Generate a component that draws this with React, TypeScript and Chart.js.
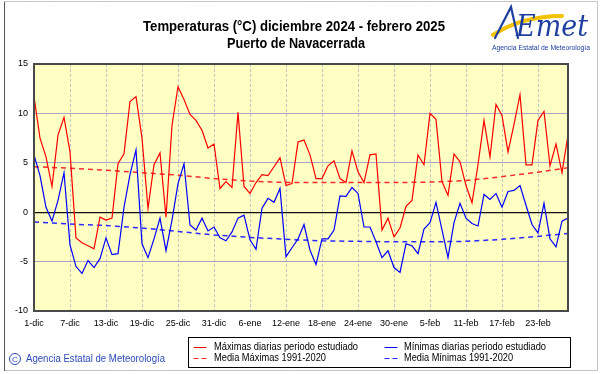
import React, { useEffect, useRef } from "react";
import { Chart, registerables } from "chart.js";

Chart.register(...registerables);

const titleLine1 = "Temperaturas (°C) diciembre 2024 - febrero 2025";
const titleLine2 = "Puerto de Navacerrada";

const tickLabels = [
  "1-dic", "7-dic", "13-dic", "19-dic", "25-dic", "31-dic", "6-ene", "12-ene",
  "18-ene", "24-ene", "30-ene", "5-feb", "11-feb", "17-feb", "23-feb",
];

// Daily maximum temperatures, 1 Dec 2024 - 28 Feb 2025
const maxTemps = [
  11.7, 7.5, 5.6, 2.6, 7.8, 9.6, 6.1, -2.6, -3.1, -3.4,
  -3.7, -0.5, -0.8, -0.6, 4.9, 5.9, 11.2, 11.7, 7.5, 0.4,
  4.8, 6.0, -0.5, 8.8, 12.7, 11.4, 9.9, 9.3, 8.3, 6.5,
  6.9, 2.4, 3.1, 2.5, 10.1, 2.6, 1.9, 3.0, 3.8, 3.7,
  4.6, 5.5, 2.7, 2.9, 7.1, 7.3, 5.8, 3.4, 3.4, 4.7,
  5.2, 3.4, 3.0, 6.2, 4.1, 3.0, 5.8, 5.9, -1.8, -0.6,
  -2.5, -1.6, 0.6, 1.2, 5.8, 4.8, 10.0, 9.4, 3.1, 1.7,
  5.9, 5.1, 2.7, 0.95, 4.8, 9.3, 5.6, 10.9, 9.8, 6.1,
  8.9, 11.9, 4.8, 4.8, 9.3, 10.2, 4.7, 6.9, 4.0, 7.8,
];

// Daily minimum temperatures
const minTemps = [
  5.8, 3.7, 0.5, -0.9, 1.2, 4.0, -3.3, -5.5, -6.2, -4.9,
  -5.6, -4.7, -2.6, -4.3, -4.2, 0.5, 3.8, 6.3, -3.2, -4.6,
  -2.7, -0.6, -3.9, -0.8, 2.9, 4.9, -1.3, -1.8, -0.6, -1.9,
  -1.5, -2.6, -2.9, -2.0, -0.6, -0.3, -2.8, -3.75, 0.4, 1.4,
  1.0, 2.4, -4.5, -3.6, -2.7, -1.25, -3.85, -5.3, -2.7, -2.7,
  -1.8, 1.65, 1.6, 2.5, 1.9, -1.5, -1.5, -3.0, -4.6, -3.9,
  -5.6, -6.1, -3.2, -3.4, -4.2, -1.7, -1.05, 1.0, -1.8, -4.6,
  -1.05, 0.9, -0.6, -1.15, -1.4, 1.8, 1.3, 1.9, 0.5, 2.1,
  2.2, 2.7, 0.7, -1.25, -2.1, 0.9, -2.7, -3.5, -0.9, -0.6,
];

// Climatological means 1991-2020, read at these day indices
const meanDays = [0, 6, 12, 18, 24, 30, 36, 42, 48, 54, 60, 66, 72, 78, 84, 89];
const meanMax = [4.6, 4.45, 4.25, 4.0, 3.75, 3.4, 3.15, 3.0, 3.0, 3.0, 3.0, 3.05, 3.2, 3.6, 4.05, 4.5];
const meanMin = [-1.0, -1.2, -1.35, -1.6, -1.95, -2.3, -2.55, -2.75, -2.9, -2.95, -3.0, -3.0, -2.95, -2.75, -2.45, -2.15];

const legendLabels = [
  "Máximas diarias periodo estudiado",
  "Mínimas diarias periodo estudiado",
  "Media Máximas 1991-2020",
  "Media Mínimas 1991-2020",
];

const FONT = 'Arial, "Liberation Sans", sans-serif';

function fitText(
  ctx: CanvasRenderingContext2D,
  text: string,
  x: number,
  y: number,
  targetW: number,
  font: string,
  color: string,
  center = false
) {
  ctx.save();
  ctx.font = font;
  ctx.fillStyle = color;
  ctx.textBaseline = "middle";
  ctx.textAlign = "left";
  const w = ctx.measureText(text).width;
  const s = targetW / w;
  ctx.translate(center ? x - targetW / 2 : x, y);
  ctx.scale(s, 1);
  ctx.fillText(text, 0, 0);
  ctx.restore();
}

const decorPlugin = {
  id: "decor",
  beforeDraw(chart: any) {
    const { ctx, chartArea: a } = chart;
    ctx.save();
    ctx.fillStyle = "#ffffff";
    ctx.fillRect(0, 0, chart.width, chart.height);
    ctx.fillStyle = "#FFFFC4";
    ctx.fillRect(a.left, a.top, a.right - a.left, a.bottom - a.top);
    ctx.restore();
  },
  afterDraw(chart: any) {
    const { ctx, chartArea: a } = chart;
    ctx.save();
    // plot frame
    ctx.strokeStyle = "#4a4a4a";
    ctx.lineWidth = 2;
    ctx.strokeRect(a.left, a.top, a.right - a.left, a.bottom - a.top);

    // outer frame
    ctx.strokeStyle = "#8a8a8a";
    ctx.lineWidth = 1;
    ctx.setLineDash([1, 1]);
    ctx.strokeRect(4.5, 1.5, 593, 369);
    ctx.setLineDash([]);
    ctx.strokeStyle = "#555";
    ctx.beginPath();
    ctx.moveTo(4.5, 2);
    ctx.lineTo(4.5, 371);
    ctx.stroke();

    // title
    fitText(ctx, titleLine1, 294, 27, 302, `bold 15px ${FONT}`, "#000", true);
    fitText(ctx, titleLine2, 296, 44, 138, `bold 15px ${FONT}`, "#000", true);

    // logo
    ctx.lineCap = "round";
    ctx.strokeStyle = "#F2C200";
    ctx.lineWidth = 4;
    ctx.beginPath();
    ctx.moveTo(493, 35);
    ctx.quadraticCurveTo(522, 16, 562, 16);
    ctx.stroke();
    ctx.strokeStyle = "#1f3f9f";
    ctx.lineWidth = 2.2;
    ctx.beginPath();
    ctx.moveTo(495, 38);
    ctx.lineTo(511, 7);
    ctx.lineTo(518, 38);
    ctx.stroke();
    fitText(ctx, "Emet", 516, 28, 72, `italic 30px "DejaVu Serif", serif`, "#1f3f9f");
    fitText(ctx, "Agencia Estatal de Meteorología", 492, 48, 98, `7px ${FONT}`, "#1f3f9f");

    // legend box
    ctx.strokeStyle = "#000";
    ctx.lineWidth = 1;
    ctx.strokeRect(188.5, 337.5, 382, 30);
    const rows = [347, 358];
    const cols = [
      { lx: 194, tx: 214 },
      { lx: 385, tx: 404 },
    ];
    const widths = [144, 142, 112, 109];
    const colors = ["#FF0000", "#0000FF", "#FF2020", "#2020FF"];
    for (let k = 0; k < 4; k++) {
      const c = cols[k % 2];
      const y = rows[Math.floor(k / 2)];
      ctx.strokeStyle = colors[k];
      ctx.lineWidth = 1.2;
      ctx.setLineDash(k >= 2 ? [4, 4] : []);
      ctx.beginPath();
      ctx.moveTo(c.lx, y + 0.5);
      ctx.lineTo(c.lx + 12, y + 0.5);
      ctx.stroke();
      ctx.setLineDash([]);
      fitText(ctx, legendLabels[k], c.tx, y, widths[k], `10.5px ${FONT}`, "#000");
    }

    // copyright
    ctx.strokeStyle = "#2a4ab8";
    ctx.lineWidth = 1;
    ctx.beginPath();
    ctx.arc(15, 359, 5.5, 0, Math.PI * 2);
    ctx.stroke();
    fitText(ctx, "C", 12, 359.5, 6, `8px ${FONT}`, "#2a4ab8");
    fitText(ctx, "Agencia Estatal de Meteorología", 26, 359, 139, `11px ${FONT}`, "#2a4ab8");
    ctx.restore();
  },
};

export default function App() {
  const ref = useRef<HTMLCanvasElement | null>(null);

  useEffect(() => {
    document.body.style.margin = "0";
    const canvas = ref.current;
    if (!canvas) return;
    const tickFont = { family: FONT, size: 9 };
    const chart = new Chart(canvas, {
      type: "line",
      data: {
        datasets: [
          {
            label: legendLabels[0],
            data: maxTemps.map((y, i) => ({ x: i, y })),
            borderColor: "#FF0000",
            borderWidth: 1.2,
            pointRadius: 0,
            tension: 0,
          },
          {
            label: legendLabels[1],
            data: minTemps.map((y, i) => ({ x: i, y })),
            borderColor: "#0000FF",
            borderWidth: 1.2,
            pointRadius: 0,
            tension: 0,
          },
          {
            label: legendLabels[2],
            data: meanDays.map((d, k) => ({ x: d, y: meanMax[k] })),
            borderColor: "#FF2A2A",
            borderWidth: 1.5,
            borderDash: [5, 4],
            pointRadius: 0,
            tension: 0,
          },
          {
            label: legendLabels[3],
            data: meanDays.map((d, k) => ({ x: d, y: meanMin[k] })),
            borderColor: "#2A2AFF",
            borderWidth: 1.5,
            borderDash: [5, 4],
            pointRadius: 0,
            tension: 0,
          },
        ],
      },
      options: {
        responsive: false,
        animation: false,
        devicePixelRatio: 1,
        layout: { padding: { left: 0, top: 64, right: 33, bottom: 0 } },
        plugins: {
          legend: { display: false },
          tooltip: { enabled: false },
          title: { display: false },
        },
        scales: {
          x: {
            type: "linear",
            min: 0,
            max: 89,
            afterBuildTicks: (s: any) => {
              s.ticks = tickLabels.map((_, k) => ({ value: k * 6 }));
            },
            afterFit: (s: any) => {
              s.height = 63;
            },
            ticks: {
              callback: (v: any) => tickLabels[Math.round(v / 6)] ?? "",
              font: tickFont,
              color: "#000",
              padding: 7,
              maxRotation: 0,
              autoSkip: false,
            },
            grid: { color: "#C4C4C4", drawTicks: false },
            border: { display: false, dash: [3, 2] },
          },
          y: {
            min: -10,
            max: 15,
            afterFit: (s: any) => {
              s.width = 34;
            },
            ticks: { stepSize: 5, padding: 6, font: tickFont, color: "#000" },
            grid: {
              color: (c: any) => (c.tick && c.tick.value === 0 ? "#111" : "#A8A4C8"),
              lineWidth: (c: any) => (c.tick && c.tick.value === 0 ? 1.3 : 1),
              drawTicks: false,
            },
            border: { display: false },
          },
        },
      },
      plugins: [decorPlugin],
    } as any);
    return () => chart.destroy();
  }, []);

  return (
    <div style={{ width: 601, height: 374 }}>
      <canvas ref={ref} width={601} height={374} style={{ display: "block" }} />
    </div>
  );
}
